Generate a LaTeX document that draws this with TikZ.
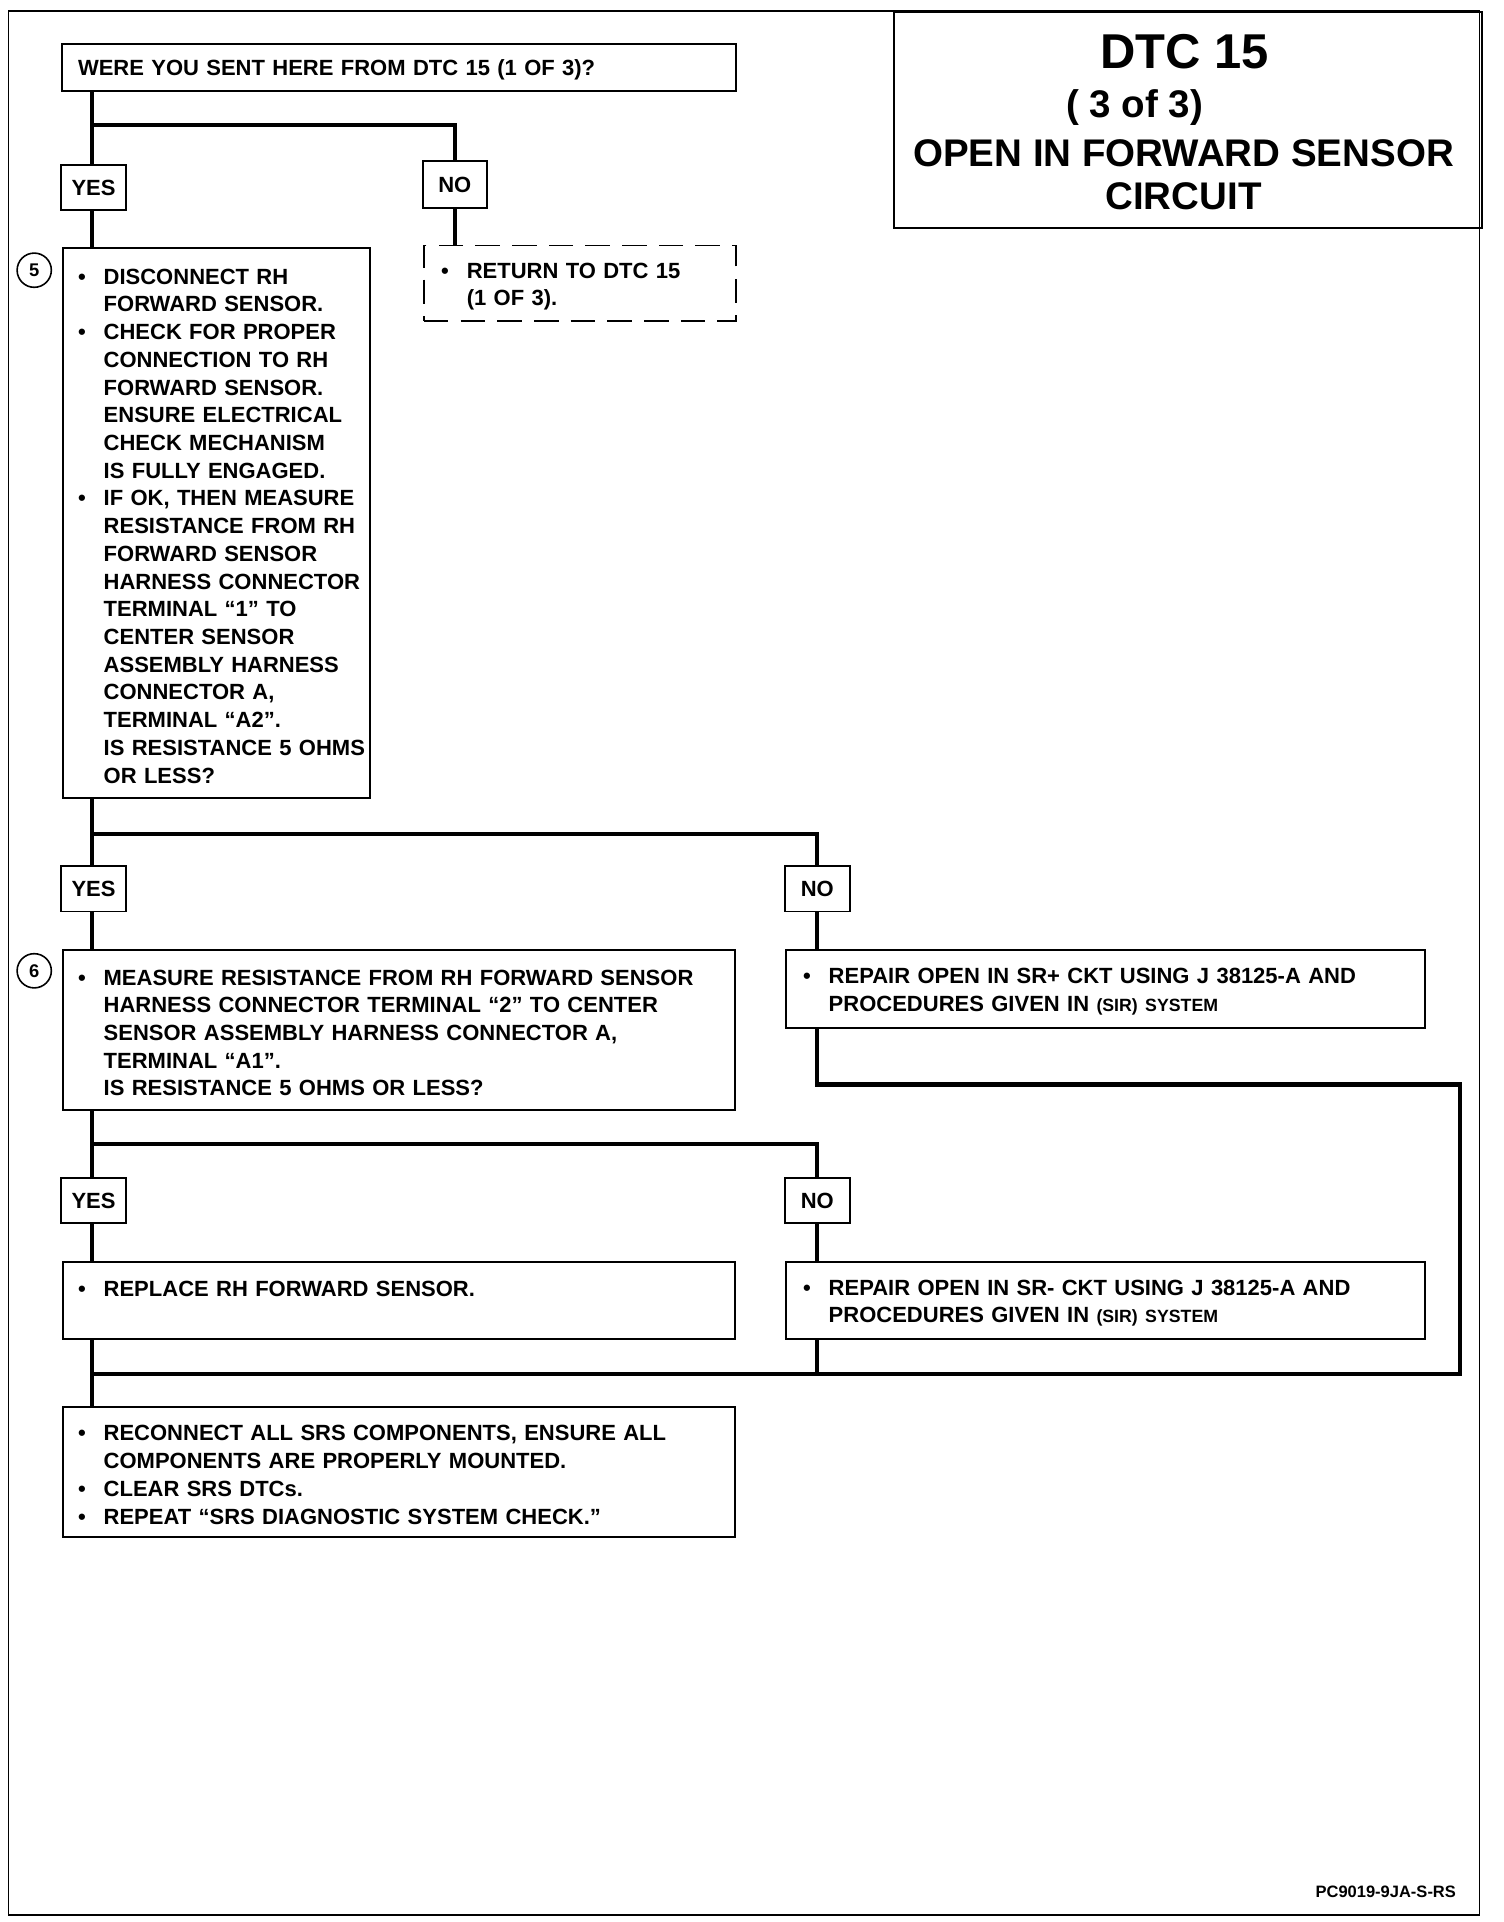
\documentclass[tikz,border=0pt]{standalone}
\usepackage{fontspec}
\setmainfont{Liberation Sans}
\newcommand{\bodyfont}{\bfseries\fontsize{18bp}{22.67bp}\selectfont}
\newcommand{\bl}{\makebox[21bp][l]{\textbullet}}
\newcommand{\ind}{\hspace*{21bp}}
\newcommand{\sir}[1]{{\fontsize{14.5bp}{22.67bp}\selectfont #1}}
\tikzset{
  flow/.style={line width=3.4bp},
  stepbox/.style 2 args={draw, line width=1.6bp, anchor=north west, align=left,
    inner xsep=0pt, inner ysep=0pt, text width=#1, minimum height=#2,
    font=\bodyfont, execute at begin node={\leftskip=12bp},
    execute at end node={\par\kern-5bp}},
  rightbox/.style={execute at begin node={\leftskip=14bp}},
  answer/.style={draw, line width=1.6bp, minimum width=53bp, minimum height=37bp,
    inner sep=0pt, font=\bodyfont},
  stepno/.style={draw, circle, line width=1.3bp, minimum size=28bp, inner sep=0pt,
    font=\bfseries\fontsize{15bp}{15bp}\selectfont},
  titlebig/.style={anchor=base, inner sep=0pt, font=\bfseries\fontsize{40bp}{44bp}\selectfont},
  titleline/.style={anchor=base, inner sep=0pt, font=\bfseries\fontsize{31.5bp}{36bp}\selectfont}
}
\begin{document}
\begin{tikzpicture}[x=1bp, y=-1bp]
  \useasboundingbox (0,0) rectangle (1230,1572);
  % rahmen
  \draw[line width=1.5bp] (7,9) rectangle (1210,1566);
  % titel
  \node[draw, line width=1.6bp, anchor=north west, minimum width=481bp,
    minimum height=177bp, inner sep=0pt] (title) at (730,9) {};
  \node[titlebig] (t1) at (969,56) {DTC 15};
  \node[titleline] (t2) at (928,96) {( 3 of 3)};
  \node[titleline] (t3) at (968,136) {OPEN IN FORWARD SENSOR};
  \node[titleline] (t4) at (968,171) {CIRCUIT};
  % schritte
  \node[stepbox={551bp}{39bp}, execute at begin node={\leftskip=13bp}] (q1) at (50,35)
    {WERE YOU SENT HERE FROM DTC 15 (1 OF 3)?};
  \node[answer] (yes1) at (76.5,153.5) {YES};
  \node[answer, minimum width=52bp, minimum height=38bp] (no1) at (372,151) {NO};
  \node[stepbox={251bp}{450bp}] (s5) at (51,202)
    {\bl DISCONNECT RH\\\ind FORWARD SENSOR.\\
     \bl CHECK FOR PROPER\\\ind CONNECTION TO RH\\\ind FORWARD SENSOR.\\
     \ind ENSURE ELECTRICAL\\\ind CHECK MECHANISM\\\ind IS FULLY ENGAGED.\\
     \bl IF OK, THEN MEASURE\\\ind RESISTANCE FROM RH\\\ind FORWARD SENSOR\\
     \ind HARNESS CONNECTOR\\\ind TERMINAL “1” TO\\\ind CENTER SENSOR\\
     \ind ASSEMBLY HARNESS\\\ind CONNECTOR A,\\\ind TERMINAL “A2”.\\
     \ind IS RESISTANCE 5 OHMS\\\ind OR LESS?};
  \node[stepno] (n5) at (28,221) {5};
  \node[stepbox={255bp}{62bp}, rightbox, dash pattern=on 20bp off 10bp] (ret) at (346,200)
    {\bl RETURN TO DTC 15\\\ind (1 OF 3).};
  \node[answer] (yes2) at (76.5,727) {YES};
  \node[answer] (no2) at (668.5,727) {NO};
  \node[stepbox={549bp}{131bp}] (s6) at (51,776)
    {\bl MEASURE RESISTANCE FROM RH FORWARD SENSOR\\
     \ind HARNESS CONNECTOR TERMINAL “2” TO CENTER\\
     \ind SENSOR ASSEMBLY HARNESS CONNECTOR A,\\
     \ind TERMINAL “A1”.\\
     \ind IS RESISTANCE 5 OHMS OR LESS?};
  \node[stepno] (n6) at (28,794) {6};
  \node[stepbox={523bp}{64bp}, rightbox] (r1) at (642,776)
    {\bl REPAIR OPEN IN SR+ CKT USING J 38125-A AND\\
     \ind PROCEDURES GIVEN IN \sir{(SIR) SYSTEM}};
  \node[answer] (yes3) at (76.5,982) {YES};
  \node[answer] (no3) at (668.5,982) {NO};
  \node[stepbox={549bp}{63bp}] (rep) at (51,1031)
    {\bl REPLACE RH FORWARD SENSOR.\\\mbox{}};
  \node[stepbox={523bp}{63bp}, rightbox] (r2) at (642,1031)
    {\bl REPAIR OPEN IN SR- CKT USING J 38125-A AND\\
     \ind PROCEDURES GIVEN IN \sir{(SIR) SYSTEM}};
  \node[stepbox={549bp}{106bp}] (fin) at (51,1150)
    {\bl RECONNECT ALL SRS COMPONENTS, ENSURE ALL\\
     \ind COMPONENTS ARE PROPERLY MOUNTED.\\
     \bl CLEAR SRS DTCs.\\
     \bl REPEAT “SRS DIAGNOSTIC SYSTEM CHECK.”};
  \node[anchor=base east, inner sep=0pt, font=\bfseries\fontsize{13.5bp}{16bp}\selectfont]
    (code) at (1191,1552) {PC9019-9JA-S-RS};
  % verbindungen
  \coordinate (trunk) at (75,0);
  \coordinate (j1) at (75,102);
  \coordinate (j2) at (75,682);
  \coordinate (j3) at (75,936);
  \coordinate (j4) at (75,1124);
  \coordinate (loop) at (1194,887);
  \draw[flow] (q1.south -| trunk) -- (yes1.north -| trunk);
  \draw[flow] (j1) -| (no1.north);
  \draw[flow] (yes1.south -| trunk) -- (s5.north -| trunk);
  \draw[flow] (no1.south) -- (ret.north -| no1);
  \draw[flow] (s5.south -| trunk) -- (yes2.north -| trunk);
  \draw[flow] (j2) -| (no2.north);
  \draw[flow] (yes2.south -| trunk) -- (s6.north -| trunk);
  \draw[flow] (no2.south) -- (r1.north -| no2);
  \draw[flow] (s6.south -| trunk) -- (yes3.north -| trunk);
  \draw[flow] (j3) -| (no3.north);
  \draw[flow] (yes3.south -| trunk) -- (rep.north -| trunk);
  \draw[flow] (no3.south) -- (r2.north -| no3);
  \draw[flow] (r1.south -| no2) |- (loop) |- (j4);
  \draw[flow] (r2.south -| no3) -- (no3 |- j4);
  \draw[flow] (rep.south -| trunk) -- (fin.north -| trunk);
\end{tikzpicture}
\end{document}
